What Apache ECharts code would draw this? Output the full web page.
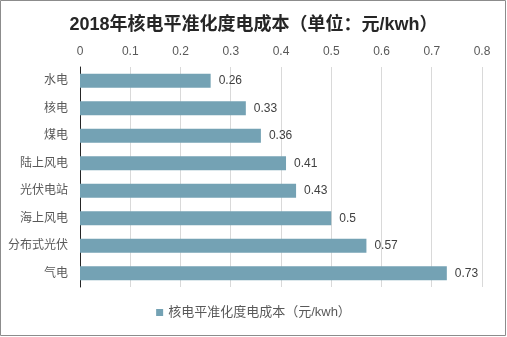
<!DOCTYPE html>
<html>
<head>
<meta charset="utf-8">
<script src="https://cdn.jsdelivr.net/npm/echarts@6/dist/echarts.min.js"></script>
<style>
  html, body { margin: 0; padding: 0; background: #fff; }
  #chart { width: 507px; height: 337px; }
</style>
</head>
<body>
<div id="chart"></div>
<script>
// LCOE by generation source, 2018 (yuan/kWh)
const categories = ['水电', '核电', '煤电', '陆上风电', '光伏电站', '海上风电', '分布式光伏', '气电'];
const costValues = [0.26, 0.33, 0.36, 0.41, 0.43, 0.5, 0.57, 0.73];
const seriesName = '核电平准化度电成本（元/kwh）';
const titleText = '2018年核电平准化度电成本（单位：元/kwh）';

const FONT = '"Liberation Sans", "Noto Sans CJK SC", sans-serif';

const chart = echarts.init(document.getElementById('chart'));
chart.setOption({
  backgroundColor: '#ffffff',
  animation: false,
  textStyle: { fontFamily: FONT },
  title: {
    text: titleText,
    left: 'center',
    top: 11,
    textStyle: { fontFamily: FONT, fontSize: 18, fontWeight: 'bold', color: '#262626' }
  },
  legend: {
    bottom: 13,
    left: 'center',
    itemWidth: 7,
    itemHeight: 7,
    itemGap: 10,
    icon: 'rect',
    textStyle: { fontFamily: FONT, fontSize: 13, color: '#595959' },
    data: [seriesName]
  },
  grid: { left: 80, right: 25, top: 67, bottom: 50, containLabel: false },
  xAxis: {
    type: 'value',
    position: 'top',
    min: 0,
    max: 0.8,
    interval: 0.1,
    axisLine: { show: false },
    axisTick: { show: false },
    axisLabel: { margin: 9, fontSize: 12, color: '#595959', fontFamily: FONT },
    splitLine: { show: true, lineStyle: { color: '#d9d9d9', width: 1 } }
  },
  yAxis: {
    type: 'category',
    inverse: true,
    data: categories,
    axisLine: { show: true, lineStyle: { color: '#262626', width: 1 } },
    axisTick: { show: false },
    axisLabel: { margin: 12, fontSize: 12, color: '#595959', fontFamily: FONT }
  },
  series: [{
    name: seriesName,
    type: 'bar',
    data: costValues,
    barCategoryGap: '49%',
    itemStyle: { color: '#74a2b4' },
    label: {
      show: true,
      position: 'right',
      distance: 8,
      fontSize: 12,
      color: '#404040',
      fontFamily: FONT
    }
  }],
  graphic: [{
    type: 'rect',
    shape: { x: 0.5, y: 0.5, width: 505, height: 335 },
    style: { fill: 'none', stroke: '#8c8c8c', lineWidth: 1 },
    silent: true
  }]
});
</script>
</body>
</html>
